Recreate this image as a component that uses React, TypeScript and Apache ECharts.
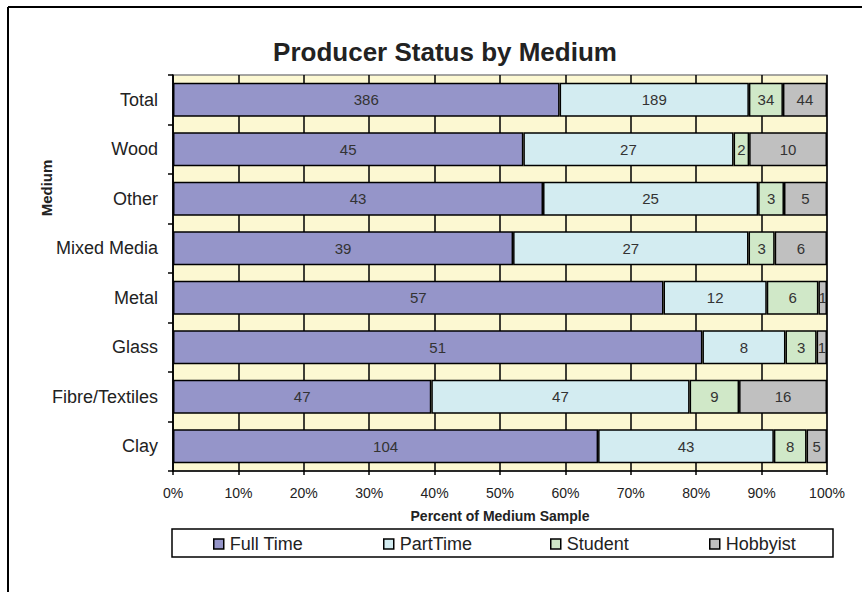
import React, { useEffect, useRef } from "react";
import * as echarts from "echarts";

const categories = ["Clay", "Fibre/Textiles", "Glass", "Metal", "Mixed Media", "Other", "Wood", "Total"];
const seriesNames = ["Full Time", "PartTime", "Student", "Hobbyist"];
const fullTime = [104, 47, 51, 57, 39, 43, 45, 386];
const partTime = [43, 47, 8, 12, 27, 25, 27, 189];
const student = [8, 9, 3, 6, 3, 3, 2, 34];
const hobbyist = [5, 16, 1, 1, 6, 5, 10, 44];
const xTicks = [0, 10, 20, 30, 40, 50, 60, 70, 80, 90, 100];

const colors = ["#9595C9", "#D3ECF1", "#D0E8C8", "#C0C0C0"];
const FONT = "'Liberation Sans', Arial, sans-serif";

export default function App() {
  const ref = useRef<HTMLDivElement>(null);
  useEffect(() => {
    if (!ref.current) return;
    const chart = echarts.init(ref.current, null, { renderer: "svg" });
    const raw = [fullTime, partTime, student, hobbyist];
    const totals = categories.map((_, i) => raw.reduce((s, arr) => s + arr[i], 0));
    const legendX = [213, 383, 550, 709];

    const option: any = {
      animation: false,
      backgroundColor: "#ffffff",
      textStyle: { fontFamily: FONT },
      title: {
        text: "Producer Status by Medium",
        left: 440,
        textAlign: "center",
        top: 34,
        textStyle: { fontSize: 26, fontWeight: "bold", color: "#222", fontFamily: FONT },
      },
      grid: {
        left: 173,
        right: 35,
        top: 75,
        bottom: 121,
        show: true,
        backgroundColor: "#FCF8D2",
        borderColor: "#888888",
        borderWidth: 1.5,
      },
      legend: seriesNames.map((n, i) => ({
        data: [n],
        left: legendX[i],
        top: 535,
        icon: "rect",
        itemWidth: 10,
        itemHeight: 10,
        itemGap: 0,
        padding: 0,
        itemStyle: { borderColor: "#000", borderWidth: 1.5 },
        textStyle: { fontSize: 18, color: "#222", fontFamily: FONT, padding: [0, 0, 0, 1] },
      })),
      xAxis: {
        type: "value",
        min: 0,
        max: 100,
        interval: 10,
        axisLine: { show: true, lineStyle: { color: "#000", width: 1.5 } },
        axisTick: { show: true, length: 4, lineStyle: { color: "#000", width: 1.5 } },
        axisLabel: {
          formatter: (v: number) => (xTicks.includes(v) ? v + "%" : ""),
          fontSize: 14,
          color: "#222",
          margin: 15,
          fontFamily: FONT,
        },
        splitLine: { show: true, lineStyle: { color: "#000", width: 1.5 } },
      },
      yAxis: {
        type: "category",
        data: categories,
        axisLine: { show: true, lineStyle: { color: "#000", width: 1.5 } },
        axisTick: { show: true, length: 5, lineStyle: { color: "#000", width: 1.5 } },
        axisLabel: { fontSize: 18, color: "#222", margin: 15, fontFamily: FONT },
      },
      graphic: [
        {
          type: "line",
          shape: { x1: 8, y1: 7, x2: 870, y2: 7 },
          style: { stroke: "#000", lineWidth: 2 },
          silent: true,
        },
        {
          type: "line",
          shape: { x1: 8, y1: 7, x2: 8, y2: 600 },
          style: { stroke: "#000", lineWidth: 2 },
          silent: true,
        },
        {
          type: "rect",
          shape: { x: 172, y: 529, width: 661, height: 28 },
          style: { fill: "none", stroke: "#000", lineWidth: 1.5 },
          silent: true,
          z: -1,
        },
        {
          type: "text",
          x: 500,
          y: 516,
          style: {
            text: "Percent of Medium Sample",
            fontSize: 14,
            fontWeight: "bold",
            fill: "#222",
            align: "center",
            verticalAlign: "middle",
            fontFamily: FONT,
          },
        },
        {
          type: "text",
          x: 46,
          y: 188,
          rotation: Math.PI / 2,
          style: {
            text: "Medium",
            fontSize: 15,
            fontWeight: "bold",
            fill: "#222",
            align: "center",
            verticalAlign: "middle",
            fontFamily: FONT,
          },
        },
      ],
      series: seriesNames.map((name, si) => ({
        name,
        type: "bar",
        stack: "total",
        barCategoryGap: "31%",
        data: raw[si].map((v, i) => (v / totals[i]) * 100),
        itemStyle: { color: colors[si], borderColor: "#000", borderWidth: 1.5 },
        label: {
          show: true,
          position: "inside",
          fontSize: 15,
          color: "#333",
          fontFamily: FONT,
          formatter: (p: any) => String(raw[si][p.dataIndex]),
        },
      })),
    };
    chart.setOption(option);
    return () => chart.dispose();
  }, []);
  return (
    <div
      ref={ref}
      style={{ position: "fixed", left: 0, top: 0, width: 862, height: 592 }}
    />
  );
}
